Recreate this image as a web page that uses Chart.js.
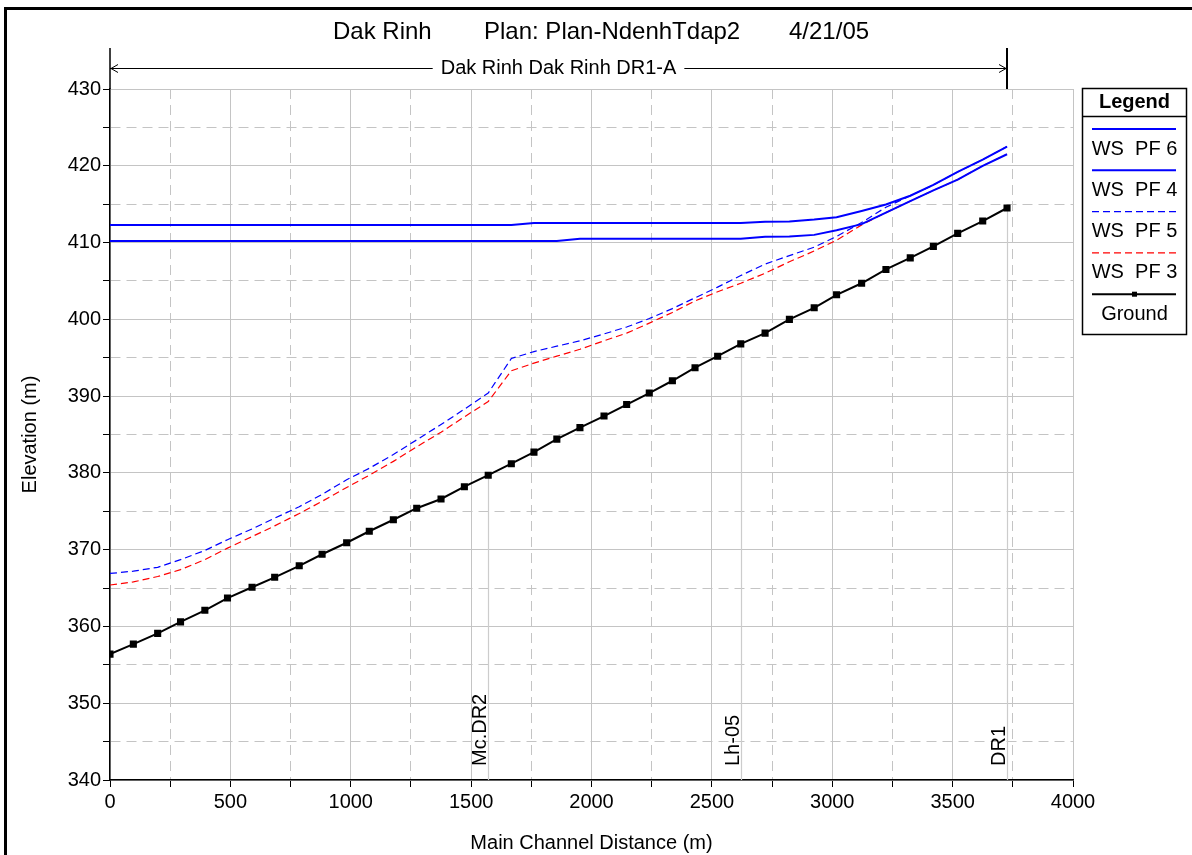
<!DOCTYPE html>
<html><head><meta charset="utf-8">
<script src="https://cdn.jsdelivr.net/npm/chart.js@4"></script>
<style>html,body{margin:0;padding:0;background:#fff;} canvas{display:block}</style>
</head><body>
<canvas id="c" width="1192" height="855"></canvas>
<script>
// ---- data ----
const distance = [0, 97, 198, 293, 394, 488, 590, 684, 786, 881, 983, 1077, 1177, 1274, 1375, 1472, 1571, 1667, 1761, 1856, 1952, 2052, 2146, 2240, 2336, 2430, 2524, 2620, 2721, 2822, 2925, 3018, 3122, 3223, 3324, 3420, 3521, 3625, 3726];
const ground = [356.4, 357.7, 359.1, 360.6, 362.1, 363.7, 365.1, 366.4, 367.9, 369.4, 370.9, 372.4, 373.9, 375.4, 376.6, 378.2, 379.7, 381.2, 382.7, 384.4, 385.9, 387.4, 388.9, 390.4, 392.0, 393.7, 395.2, 396.8, 398.2, 400.0, 401.5, 403.2, 404.7, 406.5, 408.0, 409.5, 411.2, 412.8, 414.5];
const wsPF6 = [412.3, 412.3, 412.3, 412.3, 412.3, 412.3, 412.3, 412.3, 412.3, 412.3, 412.3, 412.3, 412.3, 412.3, 412.3, 412.3, 412.3, 412.3, 412.55, 412.55, 412.55, 412.55, 412.55, 412.55, 412.55, 412.55, 412.55, 412.55, 412.7, 412.75, 413.0, 413.3, 414.1, 414.95, 416.1, 417.5, 419.2, 420.8, 422.5];
const wsPF4 = [410.2, 410.2, 410.2, 410.2, 410.2, 410.2, 410.2, 410.2, 410.2, 410.2, 410.2, 410.2, 410.2, 410.2, 410.2, 410.2, 410.2, 410.2, 410.2, 410.2, 410.5, 410.5, 410.5, 410.5, 410.5, 410.5, 410.5, 410.5, 410.75, 410.8, 411.0, 411.6, 412.4, 413.9, 415.4, 416.8, 418.2, 420.0, 421.5];
const wsPF5 = [366.9, 367.2, 367.7, 368.7, 369.9, 371.3, 372.7, 374.1, 375.6, 377.2, 379.1, 380.6, 382.4, 384.3, 386.3, 388.3, 390.4, 394.9, 395.8, 396.5, 397.2, 398.1, 399.0, 400.1, 401.4, 402.8, 404.2, 405.7, 407.2, 408.3, 409.4, 410.8, 412.6, 414.6, 416.1, 417.5, 419.2, 420.8, 422.5];
const wsPF3 = [365.4, 365.8, 366.5, 367.4, 368.7, 370.2, 371.7, 373.1, 374.7, 376.3, 378.1, 379.7, 381.5, 383.4, 385.3, 387.3, 389.3, 393.3, 394.3, 395.2, 396.1, 397.2, 398.2, 399.5, 400.9, 402.4, 403.6, 404.7, 406.0, 407.5, 408.9, 410.3, 412.3, 413.9, 415.4, 416.8, 418.2, 420.0, 421.5];
const seriesLabels = ['WS  PF 6', 'WS  PF 4', 'WS  PF 5', 'WS  PF 3', 'Ground'];
const stationNames = ['Mc.DR2', 'Lh-05', 'DR1'];
const stationIdx = [16, 27, 38];
const xTicks = [0, 250, 500, 750, 1000, 1250, 1500, 1750, 2000, 2250, 2500, 2750, 3000, 3250, 3500, 3750, 4000];
const yTicks = [340, 345, 350, 355, 360, 365, 370, 375, 380, 385, 390, 395, 400, 405, 410, 415, 420, 425, 430];
const titleParts = ['Dak Rinh', 'Plan: Plan-NdenhTdap2', '4/21/05'];
const reachLabel = 'Dak Rinh Dak Rinh DR1-A';

const FONT = "'Liberation Sans', Arial, sans-serif";
Chart.defaults.font.family = FONT;
Chart.defaults.color = '#000';

const pts = arr => arr.map((v, i) => ({x: distance[i], y: v}));
const styles = [
  {color: '#0000ff', width: 2, dash: []},
  {color: '#0000ff', width: 2, dash: []},
  {color: '#0000ff', width: 1.2, dash: [7, 4]},
  {color: '#ff0000', width: 1.2, dash: [7, 4]},
  {color: '#000000', width: 2, dash: []}
];
const series = [wsPF6, wsPF4, wsPF5, wsPF3, ground];
const datasets = series.map((arr, k) => ({
  label: seriesLabels[k], data: pts(arr),
  borderColor: styles[k].color, backgroundColor: styles[k].color,
  borderWidth: styles[k].width, borderDash: styles[k].dash,
  pointRadius: k === 4 ? 3.6 : 0, pointStyle: 'rect', pointHoverRadius: 0,
  tension: 0, fill: false, order: k
}));

const isMajorX = v => v % 500 === 0;
const isMajorY = v => v % 10 === 0;
const GRID = '#c4c4c4';

const annot = {
  id: 'annot',
  beforeDatasetsDraw(chart) {
    const {ctx, chartArea: a, scales: {x, y}} = chart;
    ctx.save();
    ctx.strokeStyle = '#cccccc'; ctx.lineWidth = 1.2;
    stationIdx.forEach(i => {
      const px = Math.round(x.getPixelForValue(distance[i])) + 0.5;
      const py = y.getPixelForValue(ground[i]);
      ctx.beginPath(); ctx.moveTo(px, py); ctx.lineTo(px, a.bottom); ctx.stroke();
    });
    ctx.restore();
  },
  afterDraw(chart) {
    const {ctx, chartArea: a, scales: {x, y}} = chart;
    ctx.save();
    ctx.fillStyle = '#000'; ctx.strokeStyle = '#000';
    // frame
    ctx.lineWidth = 3;
    ctx.beginPath(); ctx.moveTo(5.5, 860); ctx.lineTo(5.5, 8.5); ctx.lineTo(1200, 8.5); ctx.stroke();
    // title
    ctx.font = '24px ' + FONT; ctx.textBaseline = 'middle'; ctx.textAlign = 'left';
    const tx = [333, 484, 789];
    titleParts.forEach((t, k) => ctx.fillText(t, tx[k], 32));
    // station labels
    ctx.font = '20px ' + FONT;
    stationIdx.forEach((i, k) => {
      const px = x.getPixelForValue(distance[i]);
      ctx.save(); ctx.translate(px - 2, a.bottom - 14); ctx.rotate(-Math.PI / 2);
      ctx.textAlign = 'left'; ctx.textBaseline = 'alphabetic';
      ctx.fillText(stationNames[k], 0, 0); ctx.restore();
    });
    // reach arrow
    const xL = a.left, xR = x.getPixelForValue(distance[stationIdx[2]]);
    const ay = 68.5, cx = (xL + xR) / 2;
    const w = ctx.measureText(reachLabel).width;
    ctx.lineWidth = 1;
    ctx.beginPath();
    ctx.moveTo(xL, ay); ctx.lineTo(cx - w / 2 - 8, ay);
    ctx.moveTo(cx + w / 2 + 8, ay); ctx.lineTo(xR, ay);
    ctx.moveTo(xL + 8, ay - 4); ctx.lineTo(xL + 1, ay); ctx.lineTo(xL + 8, ay + 4);
    ctx.moveTo(xR - 8, ay - 4); ctx.lineTo(xR - 1, ay); ctx.lineTo(xR - 8, ay + 4);
    ctx.stroke();
    ctx.textAlign = 'center'; ctx.textBaseline = 'middle';
    ctx.fillText(reachLabel, cx, ay);
    ctx.lineWidth = 2;
    ctx.beginPath(); ctx.moveTo(Math.round(xR), 48); ctx.lineTo(Math.round(xR), a.top); ctx.stroke();
    ctx.lineWidth = 1.5;
    ctx.beginPath(); ctx.moveTo(a.left, 48); ctx.lineTo(a.left, a.top); ctx.stroke();
    // legend
    const lx = 1082.5, ly = 88.5, lw = 104, lh = 246;
    ctx.lineWidth = 1.5;
    ctx.strokeRect(lx, ly, lw, lh);
    ctx.beginPath(); ctx.moveTo(lx, 116.5); ctx.lineTo(lx + lw, 116.5); ctx.stroke();
    ctx.font = 'bold 20px ' + FONT;
    ctx.fillText('Legend', lx + lw / 2, 102.5);
    ctx.font = '20px ' + FONT;
    seriesLabels.forEach((lab, k) => {
      const sy = 129 + k * 41.3;
      const st = styles[k];
      ctx.save();
      ctx.strokeStyle = st.color; ctx.lineWidth = st.width; ctx.setLineDash(st.dash);
      ctx.beginPath(); ctx.moveTo(1092, sy); ctx.lineTo(1176, sy); ctx.stroke();
      ctx.restore();
      if (k === 4) { ctx.fillRect(lx + lw / 2 - 2.5, sy - 2.5, 5, 5); }
      ctx.fillStyle = '#000';
      ctx.fillText(lab, lx + lw / 2, sy + 20);
    });
    ctx.restore();
  }
};

new Chart(document.getElementById('c'), {
  type: 'line',
  data: {datasets},
  options: {
    responsive: false, animation: false, devicePixelRatio: 1,
    layout: {padding: {left: 0, top: 89, right: 119, bottom: 0}},
    plugins: {legend: {display: false}, tooltip: {enabled: false}, title: {display: false}},
    scales: {
      x: {
        type: 'linear', min: 0, max: 4000,
        afterBuildTicks: s => { s.ticks = xTicks.map(v => ({value: v})); },
        afterFit: s => { s.height = 75; },
        ticks: {callback: v => isMajorX(v) ? String(v) : '', font: {size: 20}, color: '#000', padding: 3, maxRotation: 0, autoSkip: false},
        grid: {color: GRID, lineWidth: 1, tickLength: 7, tickColor: '#000', tickWidth: 1},
        border: {display: true, color: '#000', width: 1.5, dash: ctx => (ctx.tick && !isMajorX(ctx.tick.value)) ? [10, 6] : []},
        title: {display: true, text: 'Main Channel Distance (m)', font: {size: 20}, color: '#000', padding: {top: 0, bottom: 0}}
      },
      y: {
        type: 'linear', min: 340, max: 430,
        afterBuildTicks: s => { s.ticks = yTicks.map(v => ({value: v})); },
        afterFit: s => { s.width = 110; },
        ticks: {callback: v => isMajorY(v) ? String(v) : '', font: {size: 20}, color: '#000', padding: 2, autoSkip: false},
        grid: {color: GRID, lineWidth: 1, tickLength: 7, tickColor: '#000', tickWidth: 1},
        border: {display: true, color: '#000', width: 1.5, dash: ctx => (ctx.tick && !isMajorY(ctx.tick.value)) ? [10, 6] : []},
        title: {display: true, text: 'Elevation (m)', font: {size: 20}, color: '#000', padding: {top: 18, bottom: 0}}
      }
    }
  },
  plugins: [annot]
});
</script>
</body></html>
